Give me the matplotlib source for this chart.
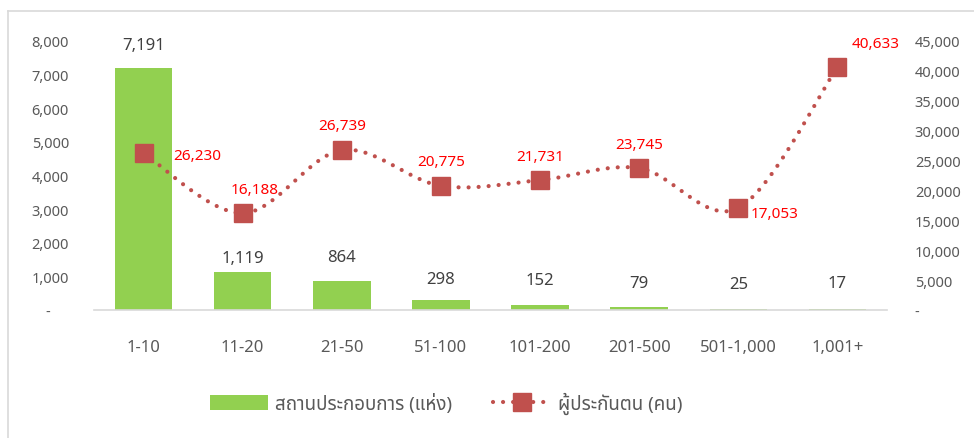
import numpy as np
import matplotlib
matplotlib.use("Agg")
import matplotlib.pyplot as plt
from matplotlib import font_manager
from matplotlib.ft2font import FT2Font
from matplotlib.lines import Line2D
from matplotlib.patches import Patch
from matplotlib.ticker import FuncFormatter

# ---- data ----
categories = ["1-10", "11-20", "21-50", "51-100", "101-200", "201-500", "501-1,000", "1,001+"]
establishments = [7191, 1119, 864, 298, 152, 79, 25, 17]
insured = [26230, 16188, 26739, 20775, 21731, 23745, 17053, 40633]
bar_label = "สถานประกอบการ (แห่ง)"
line_label = "ผู้ประกันตน (คน)"

# ---- pick a font that can draw Thai ----
def thai_family():
    preferred = ["Tahoma", "Leelawadee UI", "Noto Sans Thai", "Noto Sans Thai UI",
                 "Loma", "Garuda", "Sarabun", "Kinnari", "Norasi"]
    found = {}
    for f in font_manager.fontManager.ttflist:
        try:
            if 0x0E2A in FT2Font(f.fname).get_charmap():
                found.setdefault(f.name, f.fname)
        except Exception:
            pass
    for p in preferred:
        if p in found:
            return p
    return next(iter(found), None)

tf = thai_family()
families = ([tf] if tf else []) + ["DejaVu Sans"]
plt.rcParams["font.family"] = families

BAR_C = "#92D050"
LINE_C = "#C0504D"
TXT = "#595959"
LAB = "#404040"
RED = "#FF0000"
PX = 0.72  # points per pixel at 100 dpi

fig = plt.figure(figsize=(9.74, 4.39), dpi=100)
ax = fig.add_axes([94 / 974, 1 - 311 / 439, (887 - 94) / 974, (311 - 42) / 439])
ax2 = ax.twinx()

x = np.arange(len(categories))
ax.bar(x, establishments, width=0.58, color=BAR_C, zorder=2)
bar_lift_px = [23, 14, 24, 21, 25, 24, 25, 26]
for xi, v, d in zip(x, establishments, bar_lift_px):
    ax.annotate(f"{v:,}", (xi, v), xytext=(0, d * PX), textcoords="offset points",
                ha="center", va="center", fontsize=12, color=LAB)

ax.set_xlim(-0.5, len(categories) - 0.5)
ax.set_ylim(0, 8000)
ax.set_yticks(np.arange(0, 8001, 1000))
ax.yaxis.set_major_formatter(FuncFormatter(lambda v, p: "-     " if v == 0 else f"{v:,.0f}"))
ax.set_xticks(x)
ax.set_xticklabels(categories)
ax.tick_params(axis="x", length=0, pad=21, labelsize=12, labelcolor=TXT)
ax.tick_params(axis="y", length=0, pad=18, labelsize=10.5, labelcolor=TXT)
for s in ["top", "left", "right"]:
    ax.spines[s].set_visible(False)
ax.spines["bottom"].set_color("#D9D9D9")
ax.spines["bottom"].set_linewidth(1.2)

# smoothed line through the points (Catmull-Rom)
def smooth(xs, ys, n=30):
    P = np.column_stack([xs, ys]).astype(float)
    P = np.vstack([P[0], P, P[-1]])
    out = []
    t = np.linspace(0, 1, n)[:, None]
    for i in range(1, len(P) - 2):
        p0, p1, p2, p3 = P[i - 1], P[i], P[i + 1], P[i + 2]
        seg = 0.5 * ((2 * p1) + (-p0 + p2) * t + (2 * p0 - 5 * p1 + 4 * p2 - p3) * t ** 2
                     + (-p0 + 3 * p1 - 3 * p2 + p3) * t ** 3)
        out.append(seg if i == 1 else seg[1:])
    S = np.vstack(out)
    return S[:, 0], S[:, 1]

DOTS = (0, (0.01, 2.4))
ax2.set_ylim(0, 45000)
sx, sy = smooth(x, np.array(insured) / 45000.0)
ax2.plot(sx, sy * 45000, color=LINE_C, lw=3.0, linestyle=DOTS,
         dash_capstyle="round", zorder=3)
ax2.plot(x, insured, linestyle="none", marker="s", markersize=12.5, color=LINE_C, zorder=4)

# label offsets in pixels (dx, dy upward, alignment)
label_pos = [(30, -2, "left"), (12, 24, "center"), (0, 25, "center"), (0, 24, "center"),
             (0, 24, "center"), (0, 24, "center"), (12, -5, "left"), (14, 24, "left")]
for xi, v, (dx, dy, ha) in zip(x, insured, label_pos):
    ax2.annotate(f"{v:,}", (xi, v), xytext=(dx * PX, dy * PX), textcoords="offset points",
                 ha=ha, va="center", fontsize=11, color=RED)

ax2.set_yticks(np.arange(0, 45001, 5000))
ax2.yaxis.set_major_formatter(FuncFormatter(lambda v, p: "-" if v == 0 else f"{v:,.0f}"))
ax2.tick_params(axis="y", length=0, pad=20, labelsize=10.5, labelcolor=TXT)
for s in ["top", "left", "right", "bottom"]:
    ax2.spines[s].set_visible(False)
for lbl in ax2.get_yticklabels():
    lbl.set_ha("left")

handles = [Patch(facecolor=BAR_C, edgecolor="none"),
           Line2D([0], [0], color=LINE_C, lw=3.0, linestyle=DOTS,
                  dash_capstyle="round", marker="s", markersize=12.5)]
fig.legend(handles, [bar_label, line_label], loc="center",
           bbox_to_anchor=(446 / 974, 1 - 404 / 439),
           ncol=2, frameon=False, fontsize=13.5, labelcolor=TXT, handlelength=3.1,
           handleheight=0.8, columnspacing=2.2, handletextpad=0.35)

# outer frame (left and top edges)
fig.add_artist(Line2D([8 / 974, 8 / 974], [0, 1 - 12 / 439], transform=fig.transFigure,
                      color="#D9D9D9", lw=1.2))
fig.add_artist(Line2D([8 / 974, 1], [1 - 12 / 439, 1 - 12 / 439], transform=fig.transFigure,
                      color="#D9D9D9", lw=1.2))

fig.savefig("out.png", dpi=100, facecolor="white")
